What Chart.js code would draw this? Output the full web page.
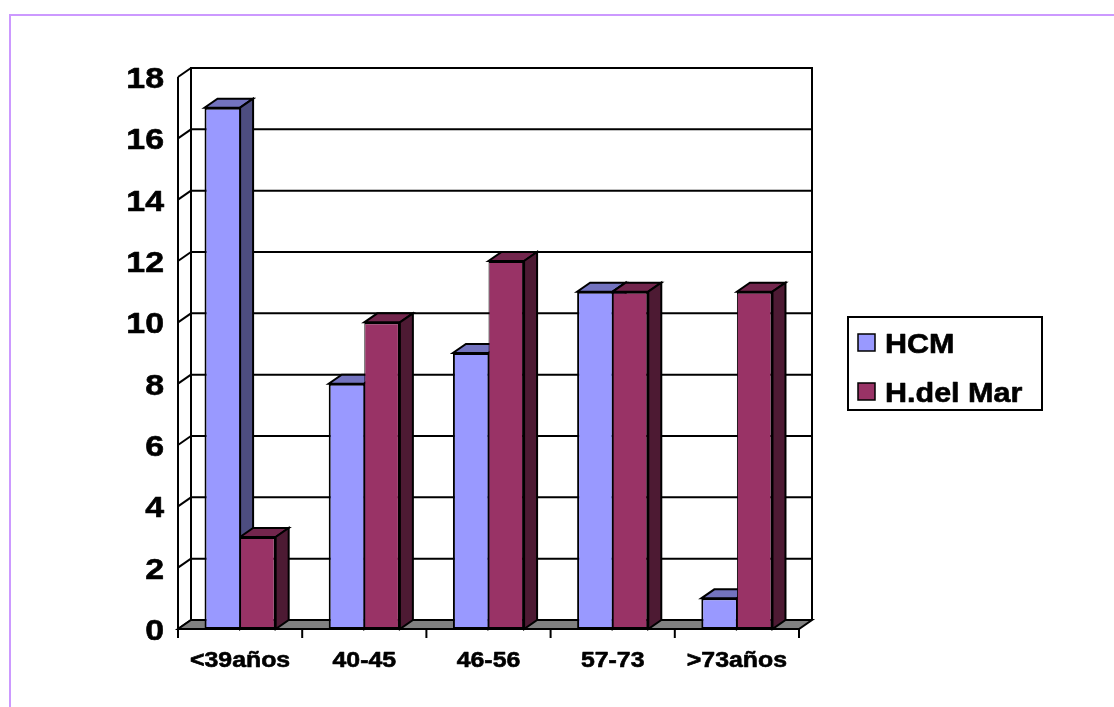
<!DOCTYPE html>
<html>
<head>
<meta charset="utf-8">
<title>HCM / H.del Mar</title>
<script src="https://cdn.jsdelivr.net/npm/chart.js@4/dist/chart.umd.min.js"></script>
<style>
  html, body { margin: 0; padding: 0; background: #fff; }
  canvas { display: block; }
</style>
</head>
<body>
<canvas id="chart" width="1114" height="707"></canvas>
<script>
// Age groups on the category axis
const categories = ['<39años', '40-45', '46-56', '57-73', '>73años'];
// Series names
const seriesNames = ['HCM', 'H.del Mar'];
// Counts per age group
const hcmValues = [17, 8, 9, 11, 1];
const marValues = [3, 10, 12, 11, 11];
// Value axis range
const yMin = 0, yMax = 18, yStep = 2;

// Face colours for the extruded columns: front, top, side
const faces = [
  { front: '#9999FF', top: '#7373BF', side: '#4D4D80' },
  { front: '#993366', top: '#73264D', side: '#4D1A33' }
];

// Screen offset of the back plane relative to the front plane
const DEPTH = { dx: 13, dy: -9 };
const FONT = '"Liberation Sans", Arial, Helvetica, sans-serif';
// Labels are set in a slightly widened, heavy bold face
const TEXT_STRETCH = 1.13;

function poly(ctx, pts, fill, stroke, lw) {
  ctx.beginPath();
  ctx.moveTo(pts[0][0], pts[0][1]);
  for (let i = 1; i < pts.length; i++) ctx.lineTo(pts[i][0], pts[i][1]);
  ctx.closePath();
  if (fill) { ctx.fillStyle = fill; ctx.fill(); }
  if (stroke) { ctx.strokeStyle = stroke; ctx.lineWidth = lw || 2; ctx.stroke(); }
}

function line(ctx, x1, y1, x2, y2, lw) {
  ctx.beginPath();
  ctx.moveTo(x1, y1);
  ctx.lineTo(x2, y2);
  ctx.strokeStyle = '#000';
  ctx.lineWidth = lw || 2;
  ctx.stroke();
}

function wideText(ctx, text, x, y, align, size) {
  ctx.save();
  ctx.translate(x, y);
  ctx.scale(TEXT_STRETCH, 1);
  ctx.font = 'bold ' + size + 'px ' + FONT;
  ctx.textAlign = align;
  ctx.textBaseline = 'alphabetic';
  ctx.fillStyle = '#000';
  ctx.strokeStyle = '#000';
  ctx.lineWidth = 0.6;
  ctx.lineJoin = 'round';
  ctx.fillText(text, 0, 0);
  ctx.strokeText(text, 0, 0);
  ctx.restore();
}

// Walls, floor, gridlines, column tops/sides, axis labels and legend
const box3d = {
  id: 'box3d',
  beforeDraw(chart) {
    const ctx = chart.ctx;
    ctx.save();
    ctx.fillStyle = '#fff';
    ctx.fillRect(0, 0, chart.width, chart.height);
    // slide frame
    ctx.strokeStyle = '#CC99FF';
    ctx.lineWidth = 2;
    ctx.beginPath();
    ctx.moveTo(10, chart.height);
    ctx.lineTo(10, 15);
    ctx.lineTo(chart.width, 15);
    ctx.stroke();
    ctx.restore();
  },
  beforeDatasetsDraw(chart) {
    const { ctx, chartArea: a, scales: { x, y } } = chart;
    const { dx, dy } = DEPTH;
    const top = y.getPixelForValue(yMax);
    const base = y.getPixelForValue(yMin);
    ctx.save();
    ctx.lineJoin = 'miter';

    // back wall
    poly(ctx, [[a.left + dx, top + dy], [a.right + dx, top + dy],
               [a.right + dx, base + dy], [a.left + dx, base + dy]], '#fff', null);

    // gridlines: diagonal on the side wall, horizontal on the back wall
    y.ticks.forEach(t => {
      const py = y.getPixelForValue(t.value);
      line(ctx, a.left, py, a.left + dx, py + dy, 2);
      line(ctx, a.left + dx, py + dy, a.right + dx, py + dy, 2);
    });
    // wall edges
    line(ctx, a.left + dx, top + dy - 1, a.left + dx, base + dy, 2);
    line(ctx, a.right + dx, top + dy - 1, a.right + dx, base + dy, 2);

    // floor
    poly(ctx, [[a.left, base], [a.right, base], [a.right + dx, base + dy], [a.left + dx, base + dy]],
         '#808080', '#000', 2);

    // front value axis and category separators
    line(ctx, a.left, top, a.left, base + 9, 2);
    const n = categories.length;
    for (let i = 0; i <= n; i++) {
      const px = a.left + (a.right - a.left) * i / n;
      line(ctx, px, base, px, base + 9, 2);
    }

    // top and side faces of every column
    chart.data.datasets.forEach((ds, di) => {
      const meta = chart.getDatasetMeta(di);
      meta.data.forEach(bar => {
        const p = bar.getProps(['x', 'y', 'base', 'width'], true);
        const l = p.x - p.width / 2, r = p.x + p.width / 2;
        poly(ctx, [[l, p.y], [r, p.y], [r + dx, p.y + dy], [l + dx, p.y + dy]],
             faces[di].top, '#000', 2);
        poly(ctx, [[r, p.y], [r + dx, p.y + dy], [r + dx, p.base + dy], [r, p.base]],
             faces[di].side, '#000', 2);
      });
    });
    ctx.restore();
  },
  afterDraw(chart) {
    const { ctx, chartArea: a, scales: { x, y } } = chart;

    // value axis labels
    y.ticks.forEach(t => {
      wideText(ctx, t.label, a.left - 14, y.getPixelForValue(t.value) + 11, 'right', 30);
    });
    // category labels
    x.ticks.forEach((t, i) => {
      wideText(ctx, x.getLabelForValue(t.value), x.getPixelForTick(i), a.bottom + 38, 'center', 22);
    });

    // legend box
    const bx = 848, by = 317, bw = 194, bh = 93;
    ctx.save();
    poly(ctx, [[bx, by], [bx + bw, by], [bx + bw, by + bh], [bx, by + bh]], '#fff', '#000', 2);
    chart.data.datasets.forEach((ds, i) => {
      const cy = 342 + i * 49;
      ctx.fillStyle = ds.backgroundColor;
      ctx.fillRect(858, cy - 8, 17, 17);
      ctx.strokeStyle = '#000';
      ctx.lineWidth = 1.5;
      ctx.strokeRect(858, cy - 8, 17, 17);
      wideText(ctx, ds.label, 885, cy + 11, 'left', 27);
    });
    ctx.restore();
  }
};

new Chart(document.getElementById('chart'), {
  type: 'bar',
  data: {
    labels: categories,
    datasets: [
      {
        label: seriesNames[0],
        data: hcmValues,
        backgroundColor: faces[0].front,
        borderColor: '#000',
        borderWidth: { left: 2, top: 2, right: 1, bottom: 2 },
        borderSkipped: false
      },
      {
        label: seriesNames[1],
        data: marValues,
        backgroundColor: faces[1].front,
        borderColor: '#000',
        borderWidth: { left: 1, top: 2, right: 2, bottom: 2 },
        borderSkipped: false
      }
    ]
  },
  options: {
    responsive: false,
    animation: false,
    devicePixelRatio: 1,
    layout: { padding: { left: 0, top: 77, right: 315, bottom: 0 } },
    datasets: { bar: { categoryPercentage: 0.573, barPercentage: 1.0 } },
    plugins: { legend: { display: false }, tooltip: { enabled: false } },
    scales: {
      x: {
        grid: { display: false, drawTicks: false },
        border: { display: false },
        ticks: { display: false },
        afterFit(scale) { scale.height = 78; }
      },
      y: {
        min: yMin, max: yMax,
        grid: { display: false, drawTicks: false },
        border: { display: false },
        ticks: { display: false, stepSize: yStep },
        afterFit(scale) { scale.width = 178; }
      }
    }
  },
  plugins: [box3d]
});
</script>
</body>
</html>
